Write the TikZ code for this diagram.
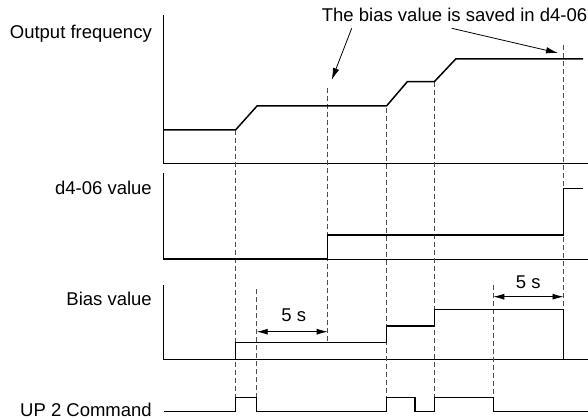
\documentclass[tikz,border=0pt]{standalone}
\usepackage{fontspec}
\setmainfont{Liberation Sans}
\usetikzlibrary{arrows.meta}
\begin{document}
\begin{tikzpicture}[x=1pt,y=-1pt,
  sig/.style={line width=1.5pt, line join=miter},
  ax/.style={line width=0.9pt},
  guide/.style={dash pattern=on 5pt off 3pt, line width=0.9pt, black!70},
  lbl/.style={font=\fontsize{18.5}{22}\selectfont, inner sep=0pt},
  dim/.style={{Latex[length=11pt,width=6pt]}-{Latex[length=11pt,width=6pt]}, line width=0.8pt},
  call/.style={-{Latex[length=12pt,width=6.5pt]}, line width=0.8pt}]
\useasboundingbox (0,0) rectangle (588,419);

% labels
\node[lbl, anchor=base east] (lof) at (152,38.3) {Output frequency};
\node[lbl, anchor=base east] (ld4) at (152,194.5) {d4-06 value};
\node[lbl, anchor=base east] (lbias) at (152,305.7) {Bias value};
\node[lbl, anchor=base east] (lup) at (152,416.5) {UP 2 Command};
\node[lbl, anchor=base west] (note) at (321.7,21.7) {The bias value is saved in d4-06};
\node[lbl, anchor=base] (fs1) at (293.8,321.7) {5 s};
\node[lbl, anchor=base] (fs2) at (528.3,288.3) {5 s};

% axes
\draw[ax] (163.5,15) -- (163.5,163.3) -- (588,163.3);
\draw[ax] (163.5,172.7) -- (163.5,259) -- (588,259);
\draw[ax] (163.5,285) -- (163.5,359.3) -- (588,359.3);

% guides
\draw[guide] (235.5,130) -- (235.5,397.3);
\draw[guide] (256.7,289) -- (256.7,397.3);
\draw[guide] (327.7,88) -- (327.7,342.3);
\draw[guide] (386.5,108) -- (386.5,397.3);
\draw[guide] (434.3,82) -- (434.3,397.3);
\draw[guide] (493.3,285) -- (493.3,397.3);
\draw[guide] (563.5,45) -- (563.5,359.3);

% signals
\draw[sig] (163.5,130) -- (235.5,130) -- (257,106) -- (386.5,106) -- (407.3,81.7) -- (434.3,81.7) -- (455.7,59) -- (583,59);
\draw[sig] (163.5,259) -- (327.7,259) -- (327.7,235) -- (563.5,235) -- (563.5,188.3) -- (583,188.3);
\draw[sig] (163.5,359.3) -- (235.5,359.3) -- (235.5,342.3) -- (386.5,342.3) -- (386.5,326) -- (434.3,326) -- (434.3,309.3) -- (563.5,309.3) -- (563.5,359.3) -- (583,359.3);
\draw[sig] (163.5,411.7) -- (235.5,411.7) -- (235.5,397.3) -- (256.7,397.3) -- (256.7,411.7) -- (386.5,411.7) -- (386.5,397.3) -- (415,397.3) -- (415,411.7) -- (434.3,411.7) -- (434.3,397.3) -- (493.3,397.3) -- (493.3,411.7) -- (588,411.7);

% dimensions
\coordinate (d1a) at (256.7,331.7);
\coordinate (d1b) at (327.7,331.7);
\coordinate (d2a) at (493.3,296.7);
\coordinate (d2b) at (563.5,296.7);
\draw[dim] (d1a) -- (d1b);
\draw[dim] (d2a) -- (d2b);

% callouts
\coordinate (c1s) at (351.7,28.3);
\coordinate (c1e) at (331.7,80);
\coordinate (c2s) at (451.7,28.3);
\coordinate (c2e) at (558,53);
\draw[call] (c1s) -- (c1e);
\draw[call] (c2s) -- (c2e);
\end{tikzpicture}
\end{document}
